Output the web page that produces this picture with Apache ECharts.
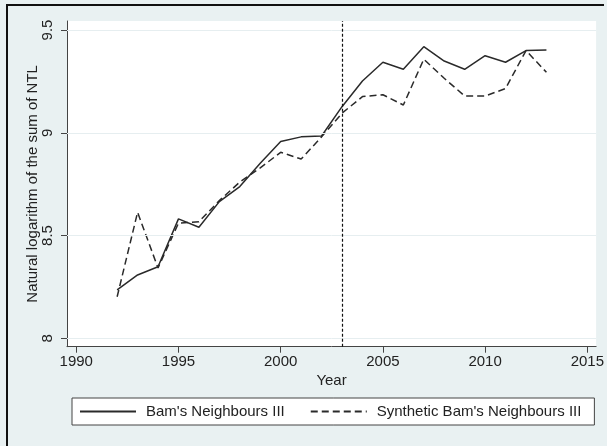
<!DOCTYPE html>
<html>
<head>
<meta charset="utf-8">
<script src="https://cdn.jsdelivr.net/npm/echarts@6/dist/echarts.min.js"></script>
<style>
html,body{margin:0;padding:0;background:#E9F1F2;}
#c{width:607px;height:446px;}
</style>
</head>
<body>
<div id="c"></div>
<script>
const years = [1992,1993,1994,1995,1996,1997,1998,1999,2000,2001,2002,2003,2004,2005,2006,2007,2008,2009,2010,2011,2012,2013];
const actual = [8.235,8.308,8.348,8.581,8.540,8.665,8.738,8.852,8.957,8.980,8.984,9.127,9.252,9.343,9.309,9.419,9.349,9.309,9.375,9.343,9.400,9.403];
const synthetic = [8.202,8.613,8.342,8.560,8.567,8.670,8.760,8.829,8.905,8.872,8.980,9.095,9.176,9.185,9.135,9.358,9.265,9.179,9.179,9.215,9.400,9.294];
const xTicks = [1990,1995,2000,2005,2010,2015];
const yTicks = [8,8.5,9,9.5];
const treatmentYear = 2003;
const seriesNames = ["Bam's Neighbours III","Synthetic Bam's Neighbours III"];

const FONT = "'Liberation Sans', Arial, Helvetica, sans-serif";
const chart = echarts.init(document.getElementById('c'), null, {renderer:'canvas'});
const pair = (xs, ys) => xs.map((x,i)=>[x, ys[i]]);

chart.setOption({
  animation:false,
  backgroundColor:'#E9F1F2',
  textStyle:{fontFamily:FONT},
  graphic:[
    {type:'line', shape:{x1:6,y1:5,x2:604,y2:5}, style:{stroke:'#111',lineWidth:2}, z:100},
    {type:'line', shape:{x1:7,y1:4,x2:7,y2:446}, style:{stroke:'#111',lineWidth:2}, z:100}
  ],
  grid:{left:67, top:21, right:8.5, bottom:99.3, show:true, backgroundColor:'#ffffff', borderWidth:0},
  xAxis:{
    type:'value', min:1989.547, max:2015.43,
    name:'Year', nameLocation:'middle', nameGap:27, nameMoveOverlap:false,
    nameTextStyle:{fontSize:15, color:'#222', fontFamily:FONT},
    axisLine:{show:true, lineStyle:{color:'#444', width:1}},
    axisTick:{show:true, length:6, customValues:xTicks, lineStyle:{color:'#444'}},
    axisLabel:{customValues:xTicks, fontSize:15, color:'#222', margin:8, fontFamily:FONT, formatter:v=>String(v)},
    splitLine:{show:false}
  },
  yAxis:{
    type:'value', min:7.959, max:9.5438,
    name:'Natural logarithm of the sum of NTL', nameLocation:'middle', nameRotate:90, nameGap:27, nameMoveOverlap:false,
    nameTextStyle:{fontSize:15, color:'#222', fontFamily:FONT},
    axisLine:{show:true, lineStyle:{color:'#444', width:1}},
    axisTick:{show:true, length:6, customValues:yTicks, lineStyle:{color:'#444'}},
    axisLabel:{customValues:yTicks, rotate:90, fontSize:15, color:'#222', margin:12, fontFamily:FONT, formatter:v=>String(v)},
    splitLine:{show:false}
  },
  legend:{
    left:72, top:398,
    orient:'horizontal',
    padding:[6,13,6,7],
    itemGap:25, itemWidth:56, itemHeight:14,
    itemStyle:{opacity:0, borderWidth:0},
    borderColor:'#444', borderWidth:1, backgroundColor:'#ffffff', borderRadius:0,
    textStyle:{fontSize:15, color:'#222', fontFamily:FONT, padding:[0,0,0,5]},
    data:seriesNames
  },
  series:[
    {
      name:'gridlines', type:'line', data:[], silent:true,
      markLine:{silent:true, symbol:'none', label:{show:false},
        lineStyle:{color:'#E6EEF0', width:1, type:'solid'},
        data: yTicks.map(v=>({yAxis:v}))}
    },
    {
      name:seriesNames[0], type:'line', data:pair(years, actual),
      symbol:'none', lineStyle:{color:'#2a2a2a', width:1.5, type:'solid'}, itemStyle:{color:'#2a2a2a'}, z:3
    },
    {
      name:seriesNames[1], type:'line', data:pair(years, synthetic),
      symbol:'none', lineStyle:{color:'#2a2a2a', width:1.5, type:[7,4]}, itemStyle:{color:'#2a2a2a'}, z:3,
      markLine:{silent:true, symbol:'none', label:{show:false},
        lineStyle:{color:'#111', width:1.2, type:[3,2]},
        data:[{xAxis:treatmentYear}]}
    }
  ]
});
</script>
</body>
</html>
